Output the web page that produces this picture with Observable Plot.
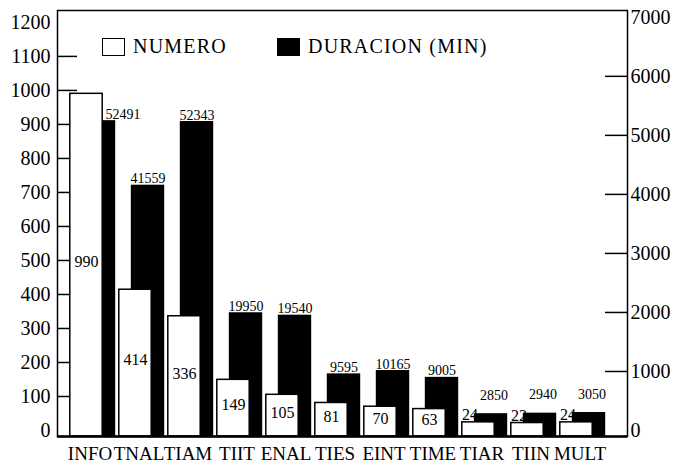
<!DOCTYPE html>
<html>
<head>
<meta charset="utf-8">
<script src="https://cdn.jsdelivr.net/npm/d3@7"></script>
<script src="https://cdn.jsdelivr.net/npm/@observablehq/plot@0.6"></script>
<style>
  html, body { margin: 0; padding: 0; background: #fff; }
  #wrap { position: relative; width: 679px; height: 463px; font-family: "Liberation Serif", "Times New Roman", serif; }
  .lg { position: absolute; top: 35px; display: flex; align-items: center; font-size: 20px; letter-spacing: 1.2px; color: #000; }
  .sw { width: 21px; height: 16px; border: 1.5px solid #000; margin-right: 8px; }
</style>
</head>
<body>
<div id="wrap"></div>
<script>
const categories = ["INFO","TNAL","TIAM","TIIT","ENAL","TIES","EINT","TIME","TIAR","TIIN","MULT"];
const numero = [990, 414, 336, 149, 105, 81, 70, 63, 24, 22, 24];
const duracion = [52491, 41559, 52343, 19950, 19540, 9595, 10165, 9005, 2850, 2940, 3050];
const leftTicks = [0,100,200,300,400,500,600,700,800,900,1000,1100,1200];
const rightTicks = [0,1000,2000,3000,4000,5000,6000,7000];

// scale setup
const Y_MIN = -17.6, Y_MAX = 1235;
const K = 1215 / 7000;            // right-axis unit -> left-axis unit
const durDivisor = 10;            // duration bars plotted as minutes / 10 on right axis

const data = categories.map((c, i) => ({cat: c, num: numero[i], dur: duracion[i], durL: duracion[i] / durDivisor * K}));

const serif = "Liberation Serif, Times New Roman, serif";

const plot = Plot.plot({
  width: 679,
  height: 463,
  marginLeft: 57,
  marginRight: 52,
  marginTop: 10,
  marginBottom: 27,
  style: {fontFamily: serif, background: "white", color: "black"},
  x: {type: "band", domain: categories, range: [65.2, 610.8], padding: 0, axis: null},
  y: {domain: [Y_MIN, Y_MAX], axis: null},
  marks: [
    Plot.ruleY(leftTicks.filter(v => v > 0 && v < 1200), {stroke: "black", strokeWidth: 1.5, insetRight: 550}),
    Plot.ruleY(rightTicks.filter(v => v > 0 && v < 7000).map(v => v * K), {stroke: "black", strokeWidth: 1.5, insetLeft: 548}),
    Plot.barY(data, {x: "cat", y1: d => Y_MIN, y2: "durL", fill: "black", insetLeft: 13.8, insetRight: 1.8}),
    Plot.barY(data, {x: "cat", y1: d => Y_MIN, y2: "num", fill: "white", stroke: "black", strokeWidth: 1.5, insetLeft: 1.8, insetRight: 14.8}),
    // white bar labels
    Plot.text(data.filter(d => d.num >= 50), {x: "cat", y: d => d.num / 2, text: d => String(d.num), dx: -6.5, fontSize: 16, fontFamily: serif, letterSpacing: 1.5, fill: "black"}),
    Plot.text(data.filter(d => d.num < 50), {x: "cat", y: "num", text: d => String(d.num), dx: -23, dy: -2, textAnchor: "start", lineAnchor: "bottom", fontSize: 16, fontFamily: serif, letterSpacing: 1.5, fill: "black"}),
    // black bar labels
    Plot.text(data.filter(d => d.dur >= 5000 && d.num <= d.durL), {x: "cat", y: "durL", text: d => String(d.dur), dx: 6, dy: -2, lineAnchor: "bottom", fontSize: 14, fontFamily: serif, letterSpacing: -0.5, fill: "black"}),
    Plot.text(data.filter(d => d.dur >= 5000 && d.num > d.durL), {x: "cat", y: "durL", text: d => String(d.dur), dx: 30, dy: -2, lineAnchor: "bottom", fontSize: 14, fontFamily: serif, letterSpacing: -0.5, fill: "black"}),
    Plot.text(data.filter(d => d.dur < 5000), {x: "cat", y: "durL", text: d => String(d.dur), dx: 9, dy: -14, lineAnchor: "bottom", fontSize: 14, fontFamily: serif, letterSpacing: -0.5, fill: "black"}),
    // axes
    Plot.axisY({anchor: "left", ticks: leftTicks, tickSize: 0, tickPadding: 7, fontSize: 20, fontFamily: serif, tickFormat: d => String(d), label: null}),
    Plot.axisY({anchor: "right", ticks: rightTicks.map(v => v * K), tickSize: 0, tickPadding: 3, fontSize: 20, fontFamily: serif, tickFormat: d => String(Math.round(d / K)), label: null}),
    Plot.axisX({anchor: "bottom", tickSize: 0, tickPadding: 10, dx: -3, fontSize: 19, fontFamily: serif, label: null}),
    Plot.frame({stroke: "black", strokeWidth: 1.5}),
    Plot.ruleY([Y_MIN], {stroke: "black", strokeWidth: 2.5})
  ]
});

const wrap = document.getElementById("wrap");
wrap.appendChild(plot);

const lg1 = document.createElement("div");
lg1.className = "lg"; lg1.style.left = "102px";
lg1.innerHTML = '<span class="sw" style="background:#fff"></span><span>NUMERO</span>';
const lg2 = document.createElement("div");
lg2.className = "lg"; lg2.style.left = "277px";
lg2.innerHTML = '<span class="sw" style="background:#000"></span><span>DURACION (MIN)</span>';
wrap.appendChild(lg1);
wrap.appendChild(lg2);
</script>
</body>
</html>
